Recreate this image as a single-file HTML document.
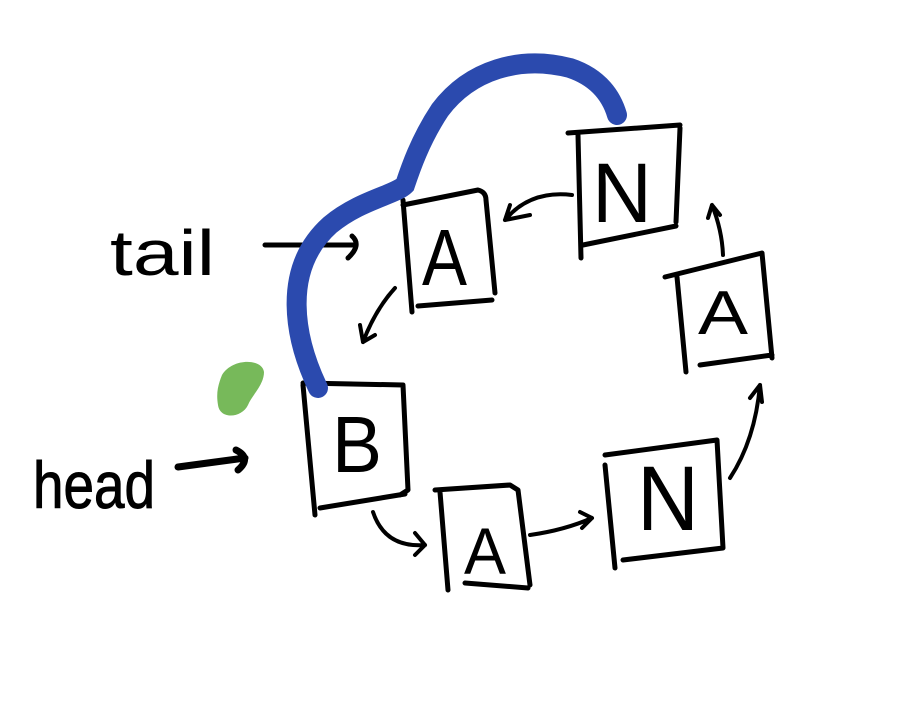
<!DOCTYPE html>
<html><head><style>html,body{margin:0;padding:0;background:#fff}svg{display:block}</style></head>
<body>
<svg width="910" height="724" viewBox="0 0 910 724" xmlns="http://www.w3.org/2000/svg">
<rect width="910" height="724" fill="#fff"/>
<g fill="none" stroke="#000" stroke-width="5" stroke-linecap="round" stroke-linejoin="round">
<path d="M568 133 L680 125 M680 128 L676 222 M583 245 L676 226 M578 135 L581 258"/>
<path d="M403 205 L478 190 Q486 192 486 200 L495 293 M418 306 L492 300 M403 200 L412 312"/>
<path d="M665 277 L762 253 L772 358 M700 365 L772 355 M677 277 L686 372"/>
<path d="M303 383 L403 385 L408 490 L400 495 M320 508 L405 494 M303 385 L315 515"/>
<path d="M435 490 L510 485 L518 490 L530 585 M465 583 L528 588 M440 492 L448 590"/>
<path d="M605 455 L717 440 L723 548 M623 560 L723 548 M605 465 L615 568"/>
<path d="M572 195 Q530 190 505 220 M505 220 L530 215 M505 220 L510 205" stroke-width="4"/>
<path d="M395 288 Q375 310 363 342 M363 342 L360 325 M363 342 L375 335" stroke-width="4"/>
<path d="M373 512 Q385 548 425 545 M425 545 L415 533 M425 545 L415 555" stroke-width="4"/>
<path d="M530 535 Q565 530 592 518 M592 518 L580 512 M592 518 L582 528" stroke-width="4"/>
<path d="M730 478 Q755 440 760 385 M760 385 L750 398 M760 385 L762 402" stroke-width="4"/>
<path d="M723 255 Q722 230 712 205 M712 205 L708 218 M712 205 L720 215" stroke-width="4"/>
<path d="M265 245 L355 245 M352 236 Q362 245 348 258" stroke-width="5"/>
<path d="M178 467 L245 458 M236 450 Q252 458 238 470" stroke-width="7"/>
</g>
<g font-family="Liberation Sans, sans-serif" fill="#000">
<text x="422" y="285" font-size="80" textLength="45" lengthAdjust="spacingAndGlyphs">A</text>
<text x="592" y="222" font-size="84" textLength="60" lengthAdjust="spacingAndGlyphs">N</text>
<text x="698" y="334" font-size="62" textLength="50" lengthAdjust="spacingAndGlyphs">A</text>
<text x="332" y="472" font-size="80" textLength="50" lengthAdjust="spacingAndGlyphs">B</text>
<text x="464" y="574" font-size="66" textLength="42" lengthAdjust="spacingAndGlyphs">A</text>
<text x="637" y="530" font-size="92" textLength="62" lengthAdjust="spacingAndGlyphs">N</text>
<text x="110" y="275" font-size="64" textLength="105" lengthAdjust="spacingAndGlyphs">tail</text>
<text x="33" y="508" font-size="66" textLength="122" lengthAdjust="spacingAndGlyphs" stroke="#000" stroke-width="1">head</text>
</g>
<path d="M318 388 C295 340 280 270 330 225 C360 200 395 195 405 185 C410 170 420 140 440 110 C470 70 520 55 570 68 C600 78 612 98 617 115" fill="none" stroke="#2b4aae" stroke-width="20" stroke-linecap="round"/>
<path d="M222 375 C232 358 262 358 264 372 C264 385 252 395 248 405 C242 418 220 420 218 405 C216 393 218 385 222 375 Z" fill="#77b95a"/>
</svg>
</body></html>
